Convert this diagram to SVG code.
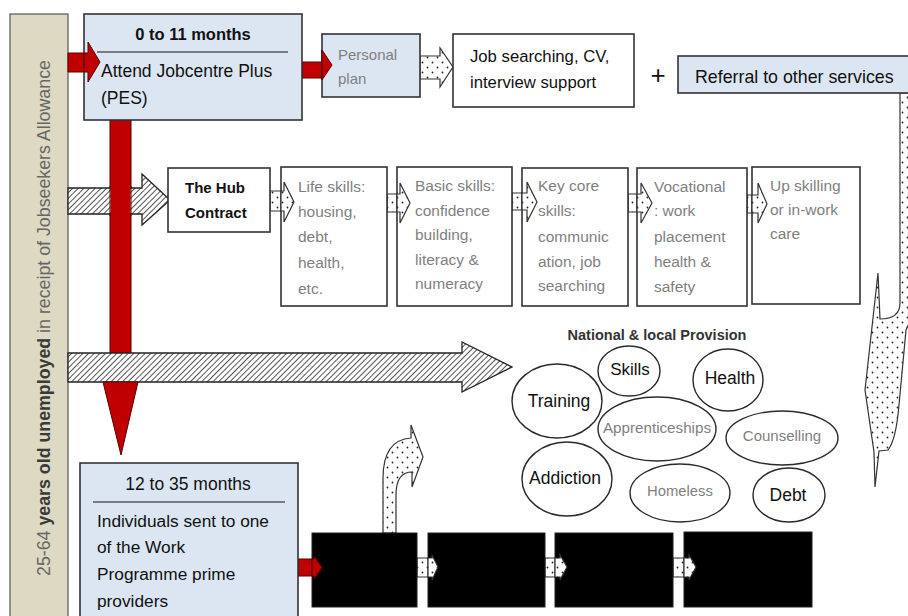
<svg xmlns="http://www.w3.org/2000/svg" width="908" height="616" viewBox="0 0 908 616">
  <defs>
    <pattern id="hatch" patternUnits="userSpaceOnUse" width="4" height="4" patternTransform="rotate(45)">
      <rect width="4" height="4" fill="#fff"/>
      <line x1="0" y1="0" x2="0" y2="4" stroke="#2a2a2a" stroke-width="1.6"/>
    </pattern>
    <pattern id="dots" patternUnits="userSpaceOnUse" width="10" height="10">
      <rect width="10" height="10" fill="#fff"/>
      <circle cx="2.5" cy="2.5" r="0.9" fill="#222"/>
      <circle cx="7.5" cy="7.5" r="0.9" fill="#222"/>
    </pattern>
    <style>
      .t { font-family: "Liberation Sans", Arial, sans-serif; }
      .box { stroke: #333; stroke-width: 1.6; }
      .blue { fill: #dce6f2; }
      .white { fill: #fff; }
      .blk { fill: #000; stroke: #222; stroke-width: 1; }
      .red { fill: #c00000; stroke: #5a0000; stroke-width: 1; }
      .hatch { fill: url(#hatch); stroke: #222; stroke-width: 1.3; }
      .dot { fill: url(#dots); stroke: #333; stroke-width: 1.2; }
      .ell { fill: #fff; stroke: #2a2a2a; stroke-width: 1.4; }
      .dark { fill: #111; }
      .grey { fill: #7f7f7f; }
    </style>
  </defs>

  <rect width="908" height="616" fill="#fff"/>

  <!-- side bar with the vertical caption -->
  <g id="jsa-bar">
    <rect x="10" y="14" width="58" height="610" fill="#ddd9c3" stroke="#555" stroke-width="1.2"/>
    <text class="t" transform="translate(50,576) rotate(-90)" font-size="17.8" fill="#666"><tspan>25-64 </tspan><tspan font-weight="bold" fill="#3a3a3a">years old unemployed</tspan><tspan> in receipt of Jobseekers Allowance</tspan></text>
  </g>

  <!-- connectors -->
  <g id="connectors">
    <!-- red vertical flow, shaft -->
    <rect class="red" x="110" y="120" width="21" height="262"/>
    <!-- hatched arrow into the Hub -->
    <polygon class="hatch" points="68,188 142,188 142,174 170,200 142,225 142,214 68,214"/>
    <!-- red shaft over the hatch -->
    <rect x="110.5" y="186" width="20" height="30" fill="#c00000"/>
    <line x1="110" y1="186" x2="110" y2="216" stroke="#5a0000" stroke-width="1"/>
    <line x1="131" y1="186" x2="131" y2="216" stroke="#5a0000" stroke-width="1"/>
    <!-- large hatched arrow to national provision -->
    <polygon class="hatch" points="68,353 462,353 462,342 512,367 462,392 462,382 68,382"/>
    <!-- red arrow head down -->
    <polygon class="red" points="103,382 138,382 121,455"/>
    <!-- red arrow into top box -->
    <polygon class="red" points="68,53 88,53 88,42 100,62 88,82 88,72 68,72"/>
    <!-- red arrow to personal plan -->
    <polygon class="red" points="302,62 322,62 322,50 332,65 322,80 322,78 302,78"/>
    <!-- dotted arrow personal plan -> job searching -->
    <polygon class="dot" points="420,56 440,56 440,48 453,67 440,87 440,79 420,79"/>
    <!-- dotted arrows along the Hub row -->
    <polygon class="dot" points="270,191 284,191 284,182 294,202 284,222 284,211 270,211"/>
    <polygon class="dot" points="387,194 400,194 400,183 410,203 400,223 400,212 387,212"/>
    <polygon class="dot" points="512,193 527,193 527,182 537,202 527,222 527,210 512,210"/>
    <polygon class="dot" points="628,194 641,194 641,183 652,203 641,223 641,212 628,212"/>
    <polygon class="dot" points="747,195 758,195 758,183 767,204 758,223 758,213 747,213"/>
    <!-- curved dotted arrow from the referral -->
    <path class="dot" d="M900,93 L900,303 Q900,319 880,319 L878,273 L865,390 L874,452 L875,487 L879,451 L888,450 Q896,440 899,405 L906,330 L920,300 L920,93 Z"/>
    <!-- red arrow into the first provider box -->
    <polygon class="red" points="298,559 314,559 314,556 322,567.5 314,579 314,576 298,576"/>
    <!-- dotted arrows between provider boxes -->
    <polygon class="dot" points="417,558 432,558 432,555 438,567 432,580 432,577 417,577"/>
    <polygon class="dot" points="545,558 560,558 560,555 567,567 560,580 560,577 545,577"/>
    <polygon class="dot" points="673,558 689,558 689,555 696,567 689,580 689,577 673,577"/>
    <!-- curved dotted arrow up from the first provider box -->
    <path class="dot" d="M383,533 L383,478 Q383,440 411,438 L411,425 L423,457 L412,487 L412,472 Q396,472 396,495 L396,533 Z"/>
  </g>

  <g id="months-0-11">
    <rect class="box blue" x="84" y="14" width="218" height="106"/>
    <text class="t dark" x="193" y="40" font-size="16.5" font-weight="bold" text-anchor="middle">0 to 11 months</text>
    <line x1="97" y1="52" x2="288" y2="52" stroke="#595959" stroke-width="1.5"/>
    <text class="t dark" x="101" y="77" font-size="17.5">Attend Jobcentre Plus</text>
    <text class="t dark" x="101" y="104" font-size="17.5">(PES)</text>
  </g>
  <!-- arrow head drawn over the box edge -->
  <polygon class="red" points="84,53 88,53 88,42 100,62 88,82 88,72 84,72"/>

  <g id="personal-plan">
    <rect class="box blue" x="322" y="34" width="98" height="63"/>
    <text class="t grey" x="338" y="60" font-size="15">Personal</text>
    <text class="t grey" x="338" y="84" font-size="15">plan</text>
  </g>
  <polygon class="red" points="322,62 322,50 332,65 322,80 322,78"/>

  <g id="job-support">
    <rect class="box white" x="453" y="34" width="181" height="73"/>
    <text class="t dark" x="470" y="62" font-size="16.7">Job searching, CV,</text>
    <text class="t dark" x="470" y="88" font-size="16.7">interview support</text>
  </g>

  <text class="t dark" x="658" y="84" font-size="26" text-anchor="middle">+</text>

  <g id="referral">
    <rect class="box blue" x="678" y="56" width="240" height="37"/>
    <text class="t dark" x="695" y="83" font-size="17.8">Referral to other services</text>
  </g>

  <g id="hub-contract">
    <rect class="box white" x="168" y="168" width="102" height="64"/>
    <text class="t dark" x="185" y="193" font-size="15" font-weight="bold">The Hub</text>
    <text class="t dark" x="185" y="218" font-size="15" font-weight="bold">Contract</text>
  </g>

  <g id="life-skills">
    <rect class="box white" x="281" y="167" width="106" height="139"/>
    <text class="t grey" font-size="15.5"><tspan x="298" y="192">Life skills:</tspan><tspan x="298" y="217">housing,</tspan><tspan x="298" y="242">debt,</tspan><tspan x="298" y="268">health,</tspan><tspan x="298" y="294">etc.</tspan></text>
  </g>
  <polygon class="dot" points="281,191 284,191 284,182 294,202 284,222 284,211 281,211"/>

  <g id="basic-skills">
    <rect class="box white" x="397" y="167" width="115" height="139"/>
    <text class="t grey" font-size="15.5"><tspan x="415" y="191">Basic skills:</tspan><tspan x="415" y="216">confidence</tspan><tspan x="415" y="240">building,</tspan><tspan x="415" y="265">literacy &amp;</tspan><tspan x="415" y="289">numeracy</tspan></text>
  </g>
  <polygon class="dot" points="397,194 400,194 400,183 410,203 400,223 400,212 397,212"/>

  <g id="key-core-skills">
    <rect class="box white" x="522" y="168" width="106" height="138"/>
    <text class="t grey" font-size="15.5"><tspan x="538" y="191">Key core</tspan><tspan x="538" y="216">skills:</tspan><tspan x="538" y="242">communic</tspan><tspan x="538" y="267">ation, job</tspan><tspan x="538" y="291">searching</tspan></text>
  </g>
  <polygon class="dot" points="522,193 527,193 527,182 537,202 527,222 527,210 522,210"/>

  <g id="vocational">
    <rect class="box white" x="637" y="168" width="110" height="138"/>
    <text class="t grey" font-size="15.5"><tspan x="654" y="192">Vocational</tspan><tspan x="654" y="216">: work</tspan><tspan x="654" y="242">placement</tspan><tspan x="654" y="267">health &amp;</tspan><tspan x="654" y="292">safety</tspan></text>
  </g>
  <polygon class="dot" points="637,194 641,194 641,183 652,203 641,223 641,212 637,212"/>

  <g id="up-skilling">
    <rect class="box white" x="752" y="167" width="108" height="137"/>
    <text class="t grey" font-size="15.5"><tspan x="770" y="191">Up skilling</tspan><tspan x="770" y="215">or in-work</tspan><tspan x="770" y="239">care</tspan></text>
  </g>
  <polygon class="dot" points="752,195 758,195 758,183 767,204 758,223 758,213 752,213"/>

  <!-- national and local provision -->
  <g id="provision">
    <text class="t" x="657" y="340" font-size="14.5" font-weight="bold" fill="#333" text-anchor="middle">National &amp; local Provision</text>
    <g id="p-skills"><ellipse class="ell" cx="629" cy="371" rx="31" ry="25"/><text class="t dark" x="630" y="375" font-size="17" text-anchor="middle">Skills</text></g>
    <g id="p-health"><ellipse class="ell" cx="728" cy="380" rx="35" ry="31"/><text class="t dark" x="730" y="384" font-size="17.5" text-anchor="middle">Health</text></g>
    <g id="p-training"><ellipse class="ell" cx="557" cy="401" rx="45" ry="37"/><text class="t dark" x="559" y="407" font-size="17.5" text-anchor="middle">Training</text></g>
    <g id="p-apprenticeships"><ellipse class="ell" cx="657" cy="429" rx="59" ry="32"/><text class="t grey" x="657" y="433" font-size="15.2" text-anchor="middle">Apprenticeships</text></g>
    <g id="p-counselling"><ellipse class="ell" cx="782" cy="438" rx="56" ry="27"/><text class="t grey" x="782" y="441" font-size="15" text-anchor="middle">Counselling</text></g>
    <g id="p-addiction"><ellipse class="ell" cx="567" cy="479" rx="45" ry="37"/><text class="t dark" x="565" y="484" font-size="17.5" text-anchor="middle">Addiction</text></g>
    <g id="p-homeless"><ellipse class="ell" cx="680" cy="493" rx="50" ry="29"/><text class="t grey" x="680" y="496" font-size="14.8" text-anchor="middle">Homeless</text></g>
    <g id="p-debt"><ellipse class="ell" cx="789" cy="495" rx="36" ry="27"/><text class="t dark" x="788" y="501" font-size="17.5" text-anchor="middle">Debt</text></g>
  </g>

  <g id="months-12-35">
    <rect class="box blue" x="80" y="463" width="218" height="160"/>
    <text class="t dark" x="188" y="490" font-size="17.5" text-anchor="middle">12 to 35 months</text>
    <line x1="93" y1="502" x2="285" y2="502" stroke="#595959" stroke-width="1.5"/>
    <text class="t dark" font-size="17.3"><tspan x="97" y="527">Individuals sent to one</tspan><tspan x="97" y="553">of the Work</tspan><tspan x="97" y="580">Programme prime</tspan><tspan x="97" y="607">providers</tspan></text>
  </g>

  <g id="provider-1"><rect class="blk" x="312" y="533" width="105" height="74"/></g>
  <g id="provider-2"><rect class="blk" x="428" y="533" width="117" height="74"/></g>
  <g id="provider-3"><rect class="blk" x="555" y="533" width="118" height="74"/></g>
  <g id="provider-4"><rect class="blk" x="684" y="532" width="128" height="75"/></g>

  <!-- arrow tips laid over the provider boxes -->
  <polygon class="red" points="312,559 314,559 314,556 322,567.5 314,579 314,576 312,576"/>
  <polygon class="dot" points="428,558 432,558 432,555 438,567 432,580 432,577 428,577"/>
  <polygon class="dot" points="555,558 560,558 560,555 567,567 560,580 560,577 555,577"/>
  <polygon class="dot" points="684,558 689,558 689,555 696,567 689,580 689,577 684,577"/>
</svg>
